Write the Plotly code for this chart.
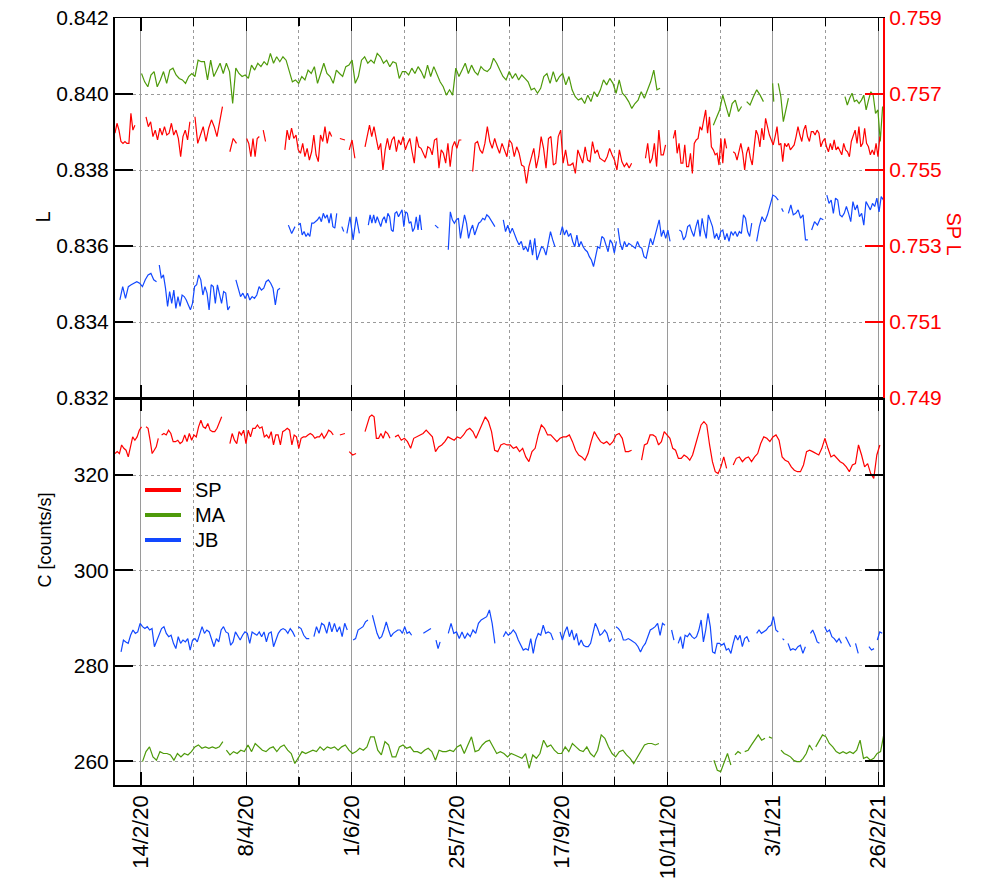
import plotly.graph_objects as go
from datetime import datetime, timedelta

# ---------------- data ----------------
BASE = datetime(2020, 2, 14)          # day 0
X_START_DAY = -13.3
X_END_DAY = 380.5
MAJOR_TICK_DAYS = [0, 54, 108, 162, 216, 270, 324, 378]
MINOR_TICK_DAYS = [27, 81, 135, 189, 243, 297, 351]

L_TICKS = [0.832, 0.834, 0.836, 0.838, 0.840, 0.842]
SPL_TICKS = [0.749, 0.751, 0.753, 0.755, 0.757, 0.759]
C_TICKS = [260, 280, 300, 320]
L_RANGE = [0.832, 0.842]
SPL_RANGE = [0.749, 0.759]
C_RANGE = [255.0, 336.15]

# each segment: (first day, last day, values) ; gaps between segments
MA_L = [
    (0.3, 266.2, [
        0.84054, 0.84032, 0.84019, 0.84050, 0.84059, 0.84019, 0.84037, 0.84059, 0.84028, 0.84063,
        0.84068, 0.84050, 0.84041, 0.84037, 0.84028, 0.84046, 0.84054, 0.84046, 0.84089, 0.84085,
        0.84085, 0.84037, 0.84089, 0.84046, 0.84063, 0.84081, 0.84054, 0.84081, 0.84059, 0.83975,
        0.84068, 0.84054, 0.84046, 0.84050, 0.84041, 0.84076, 0.84063, 0.84081, 0.84072, 0.84085,
        0.84076, 0.84107, 0.84081, 0.84098, 0.84085, 0.84098, 0.84089, 0.84059, 0.84032, 0.84037,
        0.84028, 0.84046, 0.84037, 0.84063, 0.84054, 0.84072, 0.84028, 0.84054, 0.84081, 0.84054,
        0.84046, 0.84028, 0.84063, 0.84054, 0.84046, 0.84072, 0.84076, 0.84089, 0.84028, 0.84046,
        0.84089, 0.84098, 0.84081, 0.84089,
        0.84081, 0.84107, 0.84098, 0.84081, 0.84089, 0.84072, 0.84085, 0.84081, 0.84041, 0.84059,
        0.84059, 0.84050, 0.84068, 0.84054, 0.84072, 0.84059, 0.84041, 0.84076, 0.84046, 0.84072,
        0.84050, 0.84032, 0.84019, 0.83997, 0.84011, 0.83997, 0.84068, 0.84046, 0.84063, 0.84081,
        0.84054, 0.84076, 0.84059, 0.84050, 0.84072, 0.84063, 0.84059, 0.84068, 0.84094, 0.84081,
        0.84063, 0.84046, 0.84037, 0.84059, 0.84041, 0.84054, 0.84037, 0.84050, 0.84041, 0.84032,
        0.84011, 0.84015, 0.84002, 0.84015, 0.84046, 0.84054, 0.84028, 0.84059, 0.84032, 0.84046,
        0.84054, 0.84024, 0.84046, 0.84011, 0.83993, 0.83984, 0.83989, 0.83975, 0.83997, 0.83980,
        0.84006, 0.83993, 0.84011, 0.84037, 0.84024, 0.84041, 0.84028, 0.84002,
        0.84037, 0.84002, 0.83993, 0.83980, 0.83962, 0.83975, 0.83984, 0.84006, 0.83989, 0.84011,
        0.84032, 0.84063, 0.84011, 0.84015]),
    (293.5, 308.0, [0.83918, 0.83936, 0.83958, 0.83997, 0.83967, 0.83940, 0.83975, 0.83984, 0.83954, 0.83967]),
    (310.6, 319.2, [0.83980, 0.83971, 0.83993, 0.84011, 0.83997, 0.83980]),
    (323.9, 324.5, [0.84028, 0.83980]),
    (326.8, 332.0, [0.84028, 0.83993, 0.83927, 0.83958, 0.83989]),
    (361.0, 380.3, [0.83993, 0.83971, 0.83989, 0.84002, 0.83980, 0.83984, 0.83975, 0.83984, 0.83997,
                    0.83958, 0.83984, 0.84006, 0.83997, 0.83949, 0.83958, 0.83875, 0.83967]),
]

SP_L = [
    (-13.3, -3.1, [0.75597, 0.75623, 0.75605, 0.75575, 0.75570, 0.75575, 0.75570, 0.75570, 0.75649, 0.75605, 0.75618]),
    (2.6, 25.1, [0.75640, 0.75614, 0.75627, 0.75588, 0.75605, 0.75579, 0.75610, 0.75592, 0.75614, 0.75592,
                 0.75597, 0.75623, 0.75592, 0.75605, 0.75583, 0.75535, 0.75588, 0.75605, 0.75579, 0.75627]),
    (27.7, 41.8, [0.75640, 0.75570, 0.75592, 0.75614, 0.75575, 0.75610, 0.75632, 0.75614, 0.75588, 0.75623, 0.75667]),
    (45.6, 49.0, [0.75548, 0.75583, 0.75570]),
    (54.2, 60.7, [0.75583, 0.75570, 0.75535, 0.75583, 0.75535, 0.75583, 0.75588]),
    (62.7, 63.9, [0.75605, 0.75575]),
    (73.8, 97.8, [0.75553, 0.75605, 0.75579, 0.75610, 0.75583, 0.75592, 0.75553, 0.75544, 0.75570, 0.75535,
                  0.75557, 0.75526, 0.75548, 0.75592, 0.75540, 0.75522, 0.75592, 0.75575, 0.75614, 0.75570,
                  0.75601, 0.75588]),
    (102.0, 104.6, [0.75583, 0.75579]),
    (106.8, 109.7, [0.75553, 0.75579, 0.75531]),
    (114.9, 164.3, [0.75561, 0.75592, 0.75618, 0.75588, 0.75614, 0.75583, 0.75553, 0.75570, 0.75500, 0.75553,
                    0.75583, 0.75553, 0.75579, 0.75588, 0.75548, 0.75579, 0.75566, 0.75588, 0.75553, 0.75570,
                    0.75583, 0.75548, 0.75518, 0.75588, 0.75561, 0.75557, 0.75544, 0.75531, 0.75561, 0.75557,
                    0.75540, 0.75579, 0.75583, 0.75505, 0.75553, 0.75544, 0.75518, 0.75570, 0.75509, 0.75561,
                    0.75575, 0.75557, 0.75579, 0.75579]),
    (170.1, 251.6, [0.75496, 0.75570, 0.75575, 0.75553, 0.75544, 0.75570, 0.75614, 0.75575, 0.75557, 0.75583,
                    0.75561, 0.75544, 0.75570, 0.75553, 0.75535, 0.75579, 0.75570, 0.75535, 0.75561, 0.75544,
                    0.75513, 0.75509, 0.75465, 0.75509, 0.75535, 0.75557, 0.75505, 0.75535, 0.75588, 0.75557,
                    0.75505, 0.75583, 0.75588, 0.75513, 0.75518, 0.75588, 0.75605, 0.75518, 0.75553, 0.75513,
                    0.75513, 0.75518, 0.75491, 0.75553, 0.75535, 0.75518, 0.75561, 0.75526, 0.75522, 0.75575,
                    0.75544, 0.75553, 0.75531, 0.75526, 0.75522, 0.75535, 0.75557, 0.75540, 0.75526, 0.75500,
                    0.75553, 0.75522, 0.75509, 0.75518, 0.75505, 0.75518]),
    (258.7, 269.0, [0.75531, 0.75570, 0.75518, 0.75531, 0.75570, 0.75509, 0.75605, 0.75540, 0.75540, 0.75566]),
    (273.0, 300.3, [0.75583, 0.75605, 0.75544, 0.75570, 0.75518, 0.75518, 0.75566, 0.75509, 0.75509, 0.75544,
                    0.75491, 0.75570, 0.75579, 0.75583, 0.75614, 0.75605, 0.75632, 0.75658, 0.75597, 0.75640,
                    0.75561, 0.75553, 0.75540, 0.75544, 0.75513, 0.75583, 0.75518, 0.75583, 0.75557]),
    (303.7, 378.9, [0.75548, 0.75544, 0.75526, 0.75553, 0.75570, 0.75544, 0.75500, 0.75544, 0.75561, 0.75531,
                    0.75513, 0.75561, 0.75605, 0.75592, 0.75561, 0.75610, 0.75579, 0.75636,
                    0.75614, 0.75592, 0.75579, 0.75566, 0.75588, 0.75614, 0.75566, 0.75570, 0.75522, 0.75570,
                    0.75561, 0.75570, 0.75553, 0.75561, 0.75566, 0.75588, 0.75614, 0.75592, 0.75575, 0.75605,
                    0.75618, 0.75588, 0.75575, 0.75601, 0.75601, 0.75592, 0.75605, 0.75597, 0.75561, 0.75575,
                    0.75583, 0.75561, 0.75548, 0.75570, 0.75553, 0.75579, 0.75553, 0.75561, 0.75548, 0.75540,
                    0.75570, 0.75553, 0.75548, 0.75535, 0.75575, 0.75588, 0.75605, 0.75570, 0.75614, 0.75561,
                    0.75570, 0.75610, 0.75570, 0.75561, 0.75540, 0.75553, 0.75540, 0.75570, 0.75535, 0.75588]),
]

JB_L = [
    (-10.8, 8.0, [0.83458, 0.83493, 0.83462, 0.83493, 0.83498, 0.83502, 0.83506, 0.83502, 0.83493, 0.83511,
                  0.83524, 0.83528, 0.83511, 0.83506]),
    (9.4, 45.6, [0.83550, 0.83515, 0.83524, 0.83489, 0.83441, 0.83480, 0.83449, 0.83484, 0.83436, 0.83467,
                 0.83441, 0.83471, 0.83467, 0.83458, 0.83445, 0.83432, 0.83449, 0.83493, 0.83498, 0.83524,
                 0.83511, 0.83471, 0.83493, 0.83476, 0.83432, 0.83498, 0.83493, 0.83449, 0.83498, 0.83471,
                 0.83449, 0.83480, 0.83476, 0.83432, 0.83441]),
    (48.7, 71.3, [0.83511, 0.83489, 0.83467, 0.83476, 0.83462, 0.83476, 0.83458, 0.83467, 0.83462, 0.83471,
                  0.83493, 0.83484, 0.83489, 0.83506, 0.83511, 0.83502, 0.83489, 0.83445, 0.83484, 0.83489]),
    (75.6, 79.0, [0.83655, 0.83633, 0.83651]),
    (80.7, 100.4, [0.83655, 0.83660, 0.83629, 0.83638, 0.83625, 0.83633, 0.83625, 0.83660, 0.83660, 0.83664,
                   0.83669, 0.83677, 0.83664, 0.83686, 0.83673, 0.83682, 0.83660, 0.83686, 0.83651, 0.83647,
                   0.83686]),
    (103.0, 104.0, [0.83651, 0.83638]),
    (105.6, 112.0, [0.83633, 0.83677, 0.83616, 0.83677, 0.83633]),
    (116.6, 143.9, [0.83655, 0.83682, 0.83660, 0.83682, 0.83660, 0.83677, 0.83664, 0.83651, 0.83669, 0.83677,
                    0.83660, 0.83686, 0.83677, 0.83642, 0.83638, 0.83686, 0.83690, 0.83677, 0.83686, 0.83695,
                    0.83651, 0.83690, 0.83686, 0.83660, 0.83664, 0.83638, 0.83647, 0.83677, 0.83642, 0.83682,
                    0.83642]),
    (150.8, 152.5, [0.83655, 0.83647]),
    (157.6, 181.5, [0.83590, 0.83690, 0.83669, 0.83660, 0.83669, 0.83673, 0.83620, 0.83651, 0.83682, 0.83660,
                    0.83620, 0.83642, 0.83655, 0.83629, 0.83647, 0.83660, 0.83664, 0.83673, 0.83669, 0.83682,
                    0.83677, 0.83669, 0.83660, 0.83651]),
    (185.8, 212.3, [0.83669, 0.83638, 0.83655, 0.83633, 0.83647, 0.83629, 0.83616, 0.83603, 0.83612, 0.83590,
                    0.83598, 0.83585, 0.83616, 0.83576, 0.83620, 0.83563, 0.83581, 0.83598, 0.83594, 0.83576,
                    0.83607, 0.83638, 0.83616, 0.83598]),
    (215.0, 243.8, [0.83629, 0.83651, 0.83629, 0.83642, 0.83625, 0.83633, 0.83612, 0.83598, 0.83629, 0.83598,
                    0.83612, 0.83598, 0.83590, 0.83585, 0.83572, 0.83563, 0.83546, 0.83572, 0.83598, 0.83594,
                    0.83625, 0.83620, 0.83603, 0.83585, 0.83616, 0.83607, 0.83581, 0.83612]),
    (244.6, 271.3, [0.83647, 0.83607, 0.83590, 0.83612, 0.83598, 0.83607, 0.83603, 0.83598, 0.83594, 0.83612,
                    0.83598, 0.83594, 0.83572, 0.83568, 0.83598, 0.83620, 0.83603, 0.83625, 0.83647, 0.83669,
                    0.83625, 0.83642, 0.83620, 0.83642, 0.83612]),
    (276.1, 313.2, [0.83642, 0.83638, 0.83616, 0.83625, 0.83651, 0.83655, 0.83638, 0.83625, 0.83651, 0.83669,
                    0.83625, 0.83673, 0.83642, 0.83620, 0.83682, 0.83664, 0.83651, 0.83620, 0.83633, 0.83616,
                    0.83638, 0.83642, 0.83616, 0.83633, 0.83612, 0.83638, 0.83629, 0.83638, 0.83625, 0.83638,
                    0.83633, 0.83682, 0.83673, 0.83638, 0.83625, 0.83660]),
    (315.7, 326.8, [0.83612, 0.83651, 0.83677, 0.83664, 0.83682, 0.83712, 0.83734, 0.83730, 0.83721]),
    (328.5, 329.4, [0.83699, 0.83690]),
    (332.0, 342.0, [0.83686, 0.83708, 0.83682, 0.83686, 0.83695, 0.83673, 0.83682, 0.83616, 0.83616]),
    (343.9, 349.9, [0.83642, 0.83664, 0.83655, 0.83673, 0.83669]),
    (351.7, 380.7, [0.83734, 0.83712, 0.83721, 0.83686, 0.83726, 0.83721, 0.83682, 0.83677, 0.83686, 0.83704,
                    0.83686, 0.83664, 0.83717, 0.83695, 0.83708, 0.83677, 0.83686, 0.83655, 0.83717, 0.83704,
                    0.83695, 0.83712, 0.83704, 0.83726, 0.83690, 0.83730, 0.83721]),
]

SP_C = [
    (-13.3, 0.3, [324.5, 324.9, 324.5, 326.3, 325.6, 325.2, 323.8, 325.6, 328.0, 327.3, 328.0, 329.4, 330.1]),
    (2.6, 8.9, [330.1, 329.8, 327.3, 324.5, 325.2, 325.9, 327.7]),
    (10.6, 41.4, [328.4, 328.7, 328.4, 329.4, 328.7, 327.0, 327.0, 327.3, 326.6, 327.0, 328.4, 327.0, 328.7,
                  327.3, 328.4, 328.0, 330.1, 331.5, 330.1, 329.8, 330.8, 329.4, 329.1, 329.1, 329.8, 331.2,
                  332.2]),
    (45.6, 98.6, [326.6, 328.7, 327.3, 326.6, 329.1, 328.4, 329.4, 326.6, 329.4, 328.0, 329.8, 329.8, 330.5,
                  329.8, 330.1, 328.0, 328.4, 327.7, 329.1, 326.3, 328.4, 328.4, 326.3, 329.1, 329.4, 329.8,
                  329.4, 326.3, 328.4, 328.0, 325.6, 327.7, 328.0, 328.0, 328.4, 328.7, 328.4, 327.7, 328.0,
                  328.0, 328.7, 327.7, 328.4, 329.4, 329.1, 328.4]),
    (102.0, 104.6, [328.4, 328.7]),
    (106.8, 110.3, [324.9, 324.2, 324.5]),
    (114.9, 127.7, [329.1, 330.5, 332.2, 332.6, 332.2, 327.7, 327.7, 328.7, 327.7, 329.1, 328.7, 327.7]),
    (130.3, 251.6, [328.0, 328.4, 327.3, 327.7, 327.0, 325.6, 327.7, 328.0, 328.4, 328.7, 329.4, 328.7, 328.0,
                    324.9, 325.9, 326.3, 327.0, 328.0, 327.7, 327.3, 328.0, 327.7, 328.4, 329.4, 329.8, 329.1,
                    327.7, 329.1, 330.5, 332.2, 331.2, 329.1, 325.2, 324.9, 326.3, 326.6, 326.3, 326.3, 325.6,
                    325.9, 324.9, 325.6, 323.8, 322.8, 324.9, 325.6, 328.4, 330.5, 329.8, 328.4, 328.4, 327.7,
                    327.0, 327.7, 328.0, 328.0, 328.4, 327.0, 325.2, 324.2, 323.8, 323.1, 324.5, 327.0, 329.1,
                    328.0, 327.0, 326.6, 327.0, 326.3, 327.0, 328.4,
                    328.7, 327.7, 324.9, 324.9, 325.2]),
    (256.7, 300.3, [323.1, 326.3, 326.6, 328.4, 328.4, 328.0, 326.3, 327.0, 329.1, 328.4, 327.7, 325.6, 325.2,
                    323.5, 323.5, 324.2, 323.8, 323.1, 324.2, 326.3, 328.4, 330.5, 331.2, 330.5, 326.3, 322.8,
                    320.7, 320.3, 321.7, 323.8, 321.4]),
    (303.7, 378.9, [322.1, 323.5, 323.8, 322.8, 323.5, 323.8, 322.8, 323.8, 324.5, 326.6, 328.0, 327.7, 327.0,
                    328.0, 328.4, 327.3, 323.8, 323.1, 322.8, 321.7, 321.0, 320.7, 320.7, 322.1, 324.9, 325.2,
                    324.9, 324.5, 324.2, 325.6, 327.7, 325.6, 323.8, 324.2, 323.5, 322.8, 322.4, 321.7, 320.7,
                    322.1, 322.4, 326.3, 324.2, 321.7, 322.4, 320.3, 319.3, 324.2, 326.3]),
]

JB_C = [
    (-10.2, 79.0, [282.9, 285.4, 285.0, 284.7, 286.4, 287.5, 286.8, 287.1, 288.9, 288.2, 287.8, 288.2, 287.5,
                   287.8, 284.0, 285.4, 286.8, 287.8, 288.2, 286.8, 286.1, 286.4, 284.7, 283.6, 286.1, 284.7,
                   285.4, 285.0, 285.7, 283.3, 285.4, 285.7, 285.0, 286.8, 288.2, 286.8, 287.5, 287.1, 285.7,
                   284.0, 285.7, 285.0, 287.5, 288.2, 287.1, 286.8, 284.3, 285.0, 287.1, 286.1, 285.4, 286.4,
                   287.1, 286.8, 284.7, 287.1, 286.8, 286.4, 287.1, 286.1, 287.1, 285.0, 286.8, 287.1, 284.0,
                   285.4, 286.8, 287.5, 287.8, 287.5, 286.8, 287.8, 287.1, 286.1]),
    (80.7, 86.3, [288.2, 287.8, 286.4, 285.7, 285.7]),
    (88.7, 105.8, [286.1, 288.2, 286.8, 288.9, 288.5, 286.8, 289.2, 287.1, 288.9, 287.1, 288.2, 286.1, 288.9, 287.5]),
    (108.8, 116.4, [285.4, 285.7, 287.5, 287.8, 288.2, 289.2, 289.6]),
    (118.7, 138.8, [290.6, 288.9, 286.8, 285.7, 286.1, 287.5, 289.2, 287.5, 286.1, 286.8, 287.1, 287.5, 287.5,
                    286.8, 288.2, 286.8, 287.1, 286.4]),
    (144.8, 148.7, [286.8, 287.1, 287.5, 287.8]),
    (151.3, 153.4, [285.4, 283.6, 285.0]),
    (157.6, 181.5, [286.8, 288.9, 286.8, 287.1, 285.7, 287.1, 285.7, 286.8, 286.1, 287.5, 286.8, 288.9, 289.6,
                    289.9, 290.3, 291.7, 288.9, 284.7]),
    (185.8, 211.4, [286.1, 287.1, 286.4, 286.8, 287.5, 286.8, 285.4, 284.3, 283.3, 283.6, 283.3, 285.7, 282.6,
                    285.4, 286.8, 286.4, 288.5, 286.8, 287.1, 286.8, 285.4]),
    (214.9, 241.4, [287.1, 285.4, 287.1, 288.2, 286.1, 287.5, 285.4, 286.8, 284.3, 285.4, 284.3, 284.0, 284.0,
                    284.7, 286.8, 288.9, 287.8, 286.4, 286.8, 287.5, 286.8, 285.0, 285.7]),
    (243.6, 268.7, [288.2, 287.8, 287.1, 285.4, 285.4, 285.7, 285.4, 285.0, 284.7, 284.0, 282.9, 284.0, 284.7,
                    286.1, 287.5, 287.8, 288.2, 288.9, 286.4, 288.9, 288.5]),
    (272.1, 273.3, [287.5, 285.4]),
    (275.5, 311.9, [284.7, 286.1, 283.6, 286.4, 286.1, 286.8, 286.1, 285.7, 286.1, 287.5, 289.6, 285.0, 287.5,
                    291.0, 288.2, 282.9, 282.6, 284.7, 284.7, 284.3, 284.7, 283.3, 283.6, 282.6, 284.7, 286.4,
                    285.4, 286.4, 284.0, 285.7, 286.1, 285.0]),
    (315.7, 326.8, [286.8, 287.5, 286.8, 287.1, 287.5, 288.2, 288.5, 290.3, 287.5, 287.1]),
    (329.0, 329.8, [285.7, 285.4]),
    (331.8, 340.7, [284.7, 283.3, 283.6, 283.3, 284.0, 284.3, 282.6, 284.0]),
    (343.3, 347.9, [286.8, 287.5, 286.4, 285.0, 284.7]),
    (350.6, 359.2, [288.2, 287.1, 287.5, 286.1, 285.7, 285.0, 285.7, 284.7]),
    (361.3, 363.9, [286.1, 285.0, 284.0]),
    (366.4, 367.8, [284.7, 282.6]),
    (373.3, 375.9, [284.0, 283.3, 283.6]),
    (377.6, 380.1, [285.4, 287.1, 286.8]),
]

MA_C = [
    (0.8, 42.0, [259.9, 262.0, 263.0, 260.9, 260.2, 262.0, 261.6, 261.6, 261.3, 260.2, 261.6, 260.9, 261.6,
                 261.3, 262.0, 263.0, 263.4, 262.7, 263.0, 262.7, 263.0, 262.7, 263.0, 264.1]),
    (43.8, 265.6, [262.3, 261.3, 262.0, 261.6, 262.3, 262.0, 263.4, 262.0, 263.7, 263.0, 262.3, 262.0, 262.7,
                   263.0, 262.0, 263.0, 263.4, 262.3, 261.6, 259.5, 260.9, 262.0, 261.6, 262.0, 262.3, 262.0,
                   263.0, 262.3, 263.0, 262.7, 263.0, 262.3, 263.0, 263.4, 262.3, 261.6, 262.0, 262.7, 262.3,
                   263.0, 265.1, 265.1, 262.3, 261.3, 264.1, 263.4, 260.9, 260.9, 263.0, 263.4, 262.7, 263.0,
                   262.0, 262.0, 261.6, 262.3, 262.7, 262.0, 260.2, 262.3, 262.0, 262.0, 262.3, 262.0, 263.0,
                   263.4, 261.6, 263.4, 265.1, 262.0, 262.3, 263.4, 264.1, 264.4, 263.0, 261.6, 262.0, 261.6,
                   260.9, 261.6, 261.3, 260.9, 260.6, 261.6, 258.5, 261.3, 260.6, 261.6, 264.4, 263.0, 263.4,
                   262.3, 261.6, 261.6, 263.0, 262.0, 263.7, 263.0, 262.3, 262.0, 263.0, 261.6, 260.9, 262.3,
                   265.5, 264.8, 263.0, 261.6, 260.9, 262.0, 262.3, 261.3, 260.6, 259.5, 260.9, 262.3, 263.4,
                   263.7, 263.7, 263.4, 263.7]),
    (293.8, 302.5, [260.2, 258.1, 257.8, 259.5, 261.6, 259.2]),
    (304.6, 307.7, [261.3, 262.0, 261.6]),
    (309.6, 320.0, [262.0, 262.3, 263.4, 264.4, 265.5, 264.4, 264.8]),
    (322.0, 323.6, [265.1, 264.8]),
    (328.2, 344.4, [262.3, 261.6, 261.3, 260.9, 260.2, 259.9, 259.9, 260.6, 261.6, 263.4, 262.3]),
    (346.0, 381.0, [263.0, 264.4, 265.5, 265.1, 263.7, 263.0, 262.0, 261.6, 262.0, 261.6, 262.0, 261.6, 262.3,
                    264.4, 260.6, 260.9, 260.2, 260.6, 261.6, 262.0, 265.8]),
]

SERIES_NAMES = ["SP", "MA", "JB"]
RED, GREEN, BLUE = "#ff0000", "#4e9a0a", "#1248ff"


# ---------------- build ----------------
def day(d):
    return BASE + timedelta(days=d)


def build(segs):
    xs, ys = [], []
    for d0, d1, vals in segs:
        n = len(vals)
        for i, v in enumerate(vals):
            d = d0 + (d1 - d0) * i / (n - 1) if n > 1 else d0
            xs.append(day(d))
            ys.append(v)
        xs.append(None)
        ys.append(None)
    return xs, ys


FONT = "Liberation Sans, Arial, Helvetica, sans-serif"
fig = go.Figure()


def add(segs, color, xa, ya):
    x, y = build(segs)
    fig.add_trace(go.Scatter(x=x, y=y, mode="lines", line=dict(color=color, width=1.2),
                             connectgaps=False, showlegend=False, xaxis=xa, yaxis=ya,
                             hoverinfo="skip"))


# top panel
add(MA_L, GREEN, "x2", "y2")
add(JB_L, BLUE, "x2", "y2")
add(SP_L, RED, "x2", "y3")
# bottom panel
add(MA_C, GREEN, "x", "y")
add(JB_C, BLUE, "x", "y")
add(SP_C, RED, "x", "y")

major_vals = [day(d) for d in MAJOR_TICK_DAYS]
major_text = [f"{day(d).day}/{day(d).month}/{day(d).year % 100}" for d in MAJOR_TICK_DAYS]
minor_vals = [day(d) for d in MINOR_TICK_DAYS]
x_range = [day(X_START_DAY), day(X_END_DAY)]

# figure placed at the page origin (body margin removed by post_script)
FIG_W, FIG_H = 991, 890
PL, PR, PT, PB = 115, 883, 18, 785
PW, PH = PR - PL, PB - PT


def px(xp):
    return (xp - PL) / PW


def py(yp):
    return (PB - yp) / PH


split = py(398)
GRID = "#9a9a9a"

xcommon = dict(range=x_range, tickmode="array", tickvals=major_vals, ticktext=major_text,
               ticks="inside", ticklen=13, tickwidth=1.2, tickcolor="black",
               showline=True, linecolor="black", linewidth=1.5, mirror="ticks",
               showgrid=True, gridcolor=GRID, gridwidth=1, zeroline=False, automargin=False,
               ticklabeloverflow="allow",
               minor=dict(tickmode="array", tickvals=minor_vals, ticks="inside", ticklen=8,
                          tickcolor="black", tickwidth=1.2,
                          showgrid=True, gridcolor=GRID, griddash="dot", gridwidth=1),
               tickfont=dict(family=FONT, size=22, color="black"))

shapes = []
annotations = [
    dict(text="L", xref="paper", yref="paper", x=px(30), y=py(210),
         showarrow=False, textangle=-90, font=dict(family=FONT, size=20, color="black")),
    dict(text="C [counts/s]", xref="paper", yref="paper", x=px(32), y=py(590),
         showarrow=False, textangle=-90, font=dict(family=FONT, size=18, color="black")),
    dict(text="SP L", xref="paper", yref="paper", x=px(966), y=py(210),
         showarrow=False, textangle=90, font=dict(family=FONT, size=20, color=RED)),
]
# legend (drawn as key lines + labels)
for i, (name, col) in enumerate(zip(SERIES_NAMES, [RED, GREEN, BLUE])):
    yy = 490 + 25 * i
    shapes.append(dict(type="line", xref="paper", yref="paper", x0=px(145), x1=px(181),
                       y0=py(yy), y1=py(yy), line=dict(color=col, width=4)))
    annotations.append(dict(text=name, xref="paper", yref="paper", x=px(193), y=py(yy),
                            xanchor="left", yanchor="middle", showarrow=False,
                            font=dict(family=FONT, size=20, color="black")))

fig.update_layout(
    width=FIG_W, height=FIG_H,
    margin=dict(l=PL, r=FIG_W - PR, t=PT, b=FIG_H - PB),
    paper_bgcolor="white", plot_bgcolor="white",
    font=dict(family=FONT, size=20, color="black"),
    showlegend=False,
    hovermode=False,
    xaxis=dict(xcommon, anchor="y", tickangle=-90, domain=[0, 1]),
    xaxis2=dict(xcommon, anchor="y2", matches="x", showticklabels=False, domain=[0, 1]),
    yaxis=dict(domain=[0, split], range=C_RANGE, tickmode="array", tickvals=C_TICKS,
               ticks="inside", ticklen=18, tickwidth=2, tickcolor="black",
               showline=True, linecolor="black", linewidth=2, mirror="ticks",
               showgrid=True, gridcolor=GRID, griddash="dot", gridwidth=1, zeroline=False,
               automargin=False, ticklabeloverflow="allow",
               tickfont=dict(family=FONT, size=21, color="black")),
    yaxis2=dict(domain=[split, 1], anchor="x2", range=L_RANGE, tickmode="array", tickvals=L_TICKS,
                tickformat=".3f", ticks="inside", ticklen=18, tickwidth=2, tickcolor="black",
                showline=True, linecolor="black", linewidth=2, mirror=False,
                showgrid=True, gridcolor=GRID, griddash="dot", gridwidth=1, zeroline=False,
                automargin=False, ticklabeloverflow="allow",
                tickfont=dict(family=FONT, size=21, color="black")),
    yaxis3=dict(overlaying="y2", anchor="x2", side="right", range=SPL_RANGE, tickmode="array",
                tickvals=SPL_TICKS, tickformat=".3f", ticks="inside", ticklen=18, tickwidth=2,
                tickcolor=RED, showline=True, linecolor=RED, linewidth=2, showgrid=False,
                zeroline=False, automargin=False, ticklabeloverflow="allow",
                tickfont=dict(family=FONT, size=21, color=RED)),
    shapes=shapes,
    annotations=annotations,
)

fig.write_html(
    "out.html",
    config={"displayModeBar": False, "staticPlot": True},
    post_script="document.body.style.margin='0';document.body.style.padding='0';"
                "document.body.style.overflow='hidden';",
)
